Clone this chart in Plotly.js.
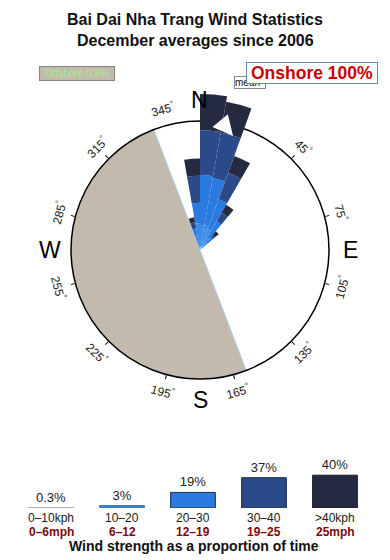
<!DOCTYPE html>
<html><head><meta charset="utf-8">
<script src="https://cdn.plot.ly/plotly-3.0.1.min.js"></script>
<style>html,body{margin:0;padding:0;background:#fff}#chart{width:390px;height:560px}</style>
</head><body><div id="chart"></div>
<script>
// ---- data ----
const directions = [345, 355, 5, 15, 25, 35, 45];
const bin0_10  = [0.3, 0.5, 0.5, 0.5, 0.5, 0.3, 0.3];
const bin10_20 = [2.0, 3.9, 3.6, 3.6, 3.1, 2.0, 1.3];
const bin20_30 = [1.3, 3.3, 8.1, 7.8, 5.2, 3.1, 1.1];
const bin30_40 = [1.0, 4.4, 7.3, 7.5, 4.6, 1.6, 0.5];
const bin40p   = [0.8, 2.8, 5.9, 5.1, 2.9, 1.5, 0.8];
const speedLabels = ['0–10kph', '10–20', '20–30', '30–40', '>40kph'];
const mphLabels = ['0–6mph', '6–12', '12–19', '19–25', '25mph'];
const binShare = [0.3, 3, 19, 37, 40];
const binShareText = ['0.3%', '3%', '19%', '37%', '40%'];
const offshoreSector = {theta: 249, width: 180, r: 21};
const tickLabelAngles = [45, 75, 105, 135, 165, 195, 225, 255, 285, 315, 345];
const compass = ['N', 'E', 'S', 'W'];
const compassAngles = [0, 90, 180, 270];

// ---- layout geometry ----
const W = 390, H = 560, CX = 200, CY = 250;
const R_FRAME = 129, R_BARS = 165;
const FRAME_VALUE = 21;
const FONT = 'Liberation Sans, Arial, Helvetica, sans-serif';
const roseColors = ['#55b3ef', '#3a8ce8', '#2a7ae0', '#2b4a8a', '#262a40'];
const legendColors = ['#a9b2b8', '#3b7ccc', '#2a7ae0', '#2b4a8a', '#262a40'];

function dom(r) {
  return {x: [(CX - r) / W, (CX + r) / W], y: [1 - (CY + r) / H, 1 - (CY - r) / H]};
}
function polarPx(theta, rpx) {
  const a = theta * Math.PI / 180;
  return [CX + rpx * Math.sin(a), CY - rpx * Math.cos(a)];
}
const px2paper = (x, y) => [x / W, 1 - y / H];

const traces = [];
traces.push({
  type: 'barpolar', subplot: 'polar', r: [offshoreSector.r], theta: [offshoreSector.theta],
  width: [offshoreSector.width], marker: {color: '#c4b9ad', line: {color: '#a9d0ef', width: 1}},
  hoverinfo: 'skip', showlegend: false
});
const bins = [bin0_10, bin10_20, bin20_30, bin30_40, bin40p];
bins.forEach((vals, i) => {
  traces.push({
    type: 'barpolar', subplot: 'polar2', r: vals, theta: directions, width: 10,
    marker: {color: roseColors[i], line: {width: 0}}, name: speedLabels[i], showlegend: false
  });
});
traces.push({
  type: 'bar', x: [0, 1, 2, 3, 4], y: binShare, width: 0.63,
  marker: {color: legendColors, line: {color: ['#a9b2b8', '#3b7ccc', '#1f2c4a', '#1f2c4a', '#1a1d2e'], width: [1.5, 1, 1, 1, 1]}},
  text: binShareText, textposition: 'outside', cliponaxis: false,
  textfont: {family: FONT, size: 13, color: '#222'}, showlegend: false, hoverinfo: 'skip'
});

const annotations = [];
function ann(o) { annotations.push(Object.assign({xref: 'paper', yref: 'paper', showarrow: false,
  xanchor: 'center', yanchor: 'middle'}, o)); }
// titles
[['Bai Dai Nha Trang Wind Statistics', 19.5], ['December averages since 2006', 41]].forEach(([t, y]) => {
  const p = px2paper(195, y);
  ann({text: '<b>' + t + '</b>', x: p[0], y: p[1], font: {family: FONT, size: 16, color: '#111'}});
});
// degree labels
tickLabelAngles.forEach(th => {
  const [x, y] = polarPx(th, 146);
  const p = px2paper(x, y);
  let ang = th <= 90 ? th : (th < 270 ? th - 180 : th - 360);
  ann({text: th + '<sup>°</sup>', x: p[0], y: p[1], textangle: ang, font: {family: FONT, size: 12, color: '#222'}});
});
// compass letters
compass.forEach((c, i) => {
  const [x, y] = polarPx(compassAngles[i], 150);
  const p = px2paper(x, y);
  ann({text: c, x: p[0], y: p[1], font: {family: FONT, size: 23, color: '#000'}});
});
// white direction arrow (head at tip, tail up-left)
{
  const tip = px2paper(233, 136);
  annotations.push({x: tip[0], y: tip[1], xref: 'paper', yref: 'paper', text: '', showarrow: true,
    ax: -10, ay: -12, axref: 'pixel', ayref: 'pixel', arrowhead: 2, arrowsize: 1.6, arrowwidth: 2.5,
    arrowcolor: '#ffffff', standoff: 0, startstandoff: 0});
}
// badges
{
  let p = px2paper(250, 82.5);
  ann({text: 'mean', x: p[0], y: p[1], font: {family: FONT, size: 10, color: '#111'}, bgcolor: '#fff',
    bordercolor: '#888', borderwidth: 1, borderpad: 0, width: 30, height: 11, align: 'left'});
  p = px2paper(77, 73.5);
  ann({text: 'Offshore 0.3%', x: p[0], y: p[1], font: {family: FONT, size: 10, color: '#a2f08e'},
    bgcolor: '#c4b9ad', bordercolor: '#8a8580', borderwidth: 1, borderpad: 0, width: 74, height: 13});
  p = px2paper(312, 73);
  ann({text: '<b>Onshore 100%</b>', x: p[0], y: p[1], font: {family: FONT, size: 17.5, color: '#cc0000'},
    bgcolor: '#fff', bordercolor: '#6a88a8', borderwidth: 1, borderpad: 0, width: 130, height: 20});
}
// legend category labels
speedLabels.forEach((s, i) => {
  ann({text: s, x: i, y: 1 - 518 / H, xref: 'x', font: {family: FONT, size: 12, color: '#1a1a1a'}});
  ann({text: '<b>' + mphLabels[i] + '</b>', x: i, y: 1 - 531.5 / H, xref: 'x',
    font: {family: FONT, size: 12, color: '#7d0a0a'}});
});
ann({text: '<b>Wind strength as a proportion of time</b>', x: 194 / W, y: 1 - 546 / H,
  font: {family: FONT, size: 14, color: '#111'}});

const hiddenAng = {direction: 'clockwise', rotation: 90, showline: false, showgrid: false,
  showticklabels: false, ticks: ''};
const layout = {
  width: W, height: H, margin: {l: 0, r: 0, t: 0, b: 0}, paper_bgcolor: '#fff', plot_bgcolor: 'rgba(0,0,0,0)',
  showlegend: false, font: {family: FONT},
  polar: {
    domain: dom(R_FRAME), bgcolor: 'rgba(0,0,0,0)', barmode: 'overlay',
    radialaxis: {visible: false, range: [0, FRAME_VALUE]},
    angularaxis: {direction: 'clockwise', rotation: 90, showline: true, linecolor: '#000', linewidth: 1.5,
      showgrid: false, showticklabels: false, ticks: 'outside', ticklen: 4, tickwidth: 1, tickcolor: '#000',
      tickmode: 'linear', tick0: 15, dtick: 30}
  },
  polar2: {
    domain: dom(R_BARS), bgcolor: 'rgba(0,0,0,0)', barmode: 'stack', bargap: 0,
    radialaxis: {visible: false, range: [0, FRAME_VALUE * R_BARS / R_FRAME]},
    angularaxis: hiddenAng
  },
  xaxis: {domain: [0, 1], range: [-51 / 71, -51 / 71 + W / 71], visible: false, fixedrange: true},
  yaxis: {domain: [1 - 508 / H, 1 - 467 / H], range: [0, 50], visible: false, fixedrange: true},
  annotations: annotations
};
Plotly.newPlot('chart', traces, layout, {displayModeBar: false, staticPlot: true});
</script></body></html>
